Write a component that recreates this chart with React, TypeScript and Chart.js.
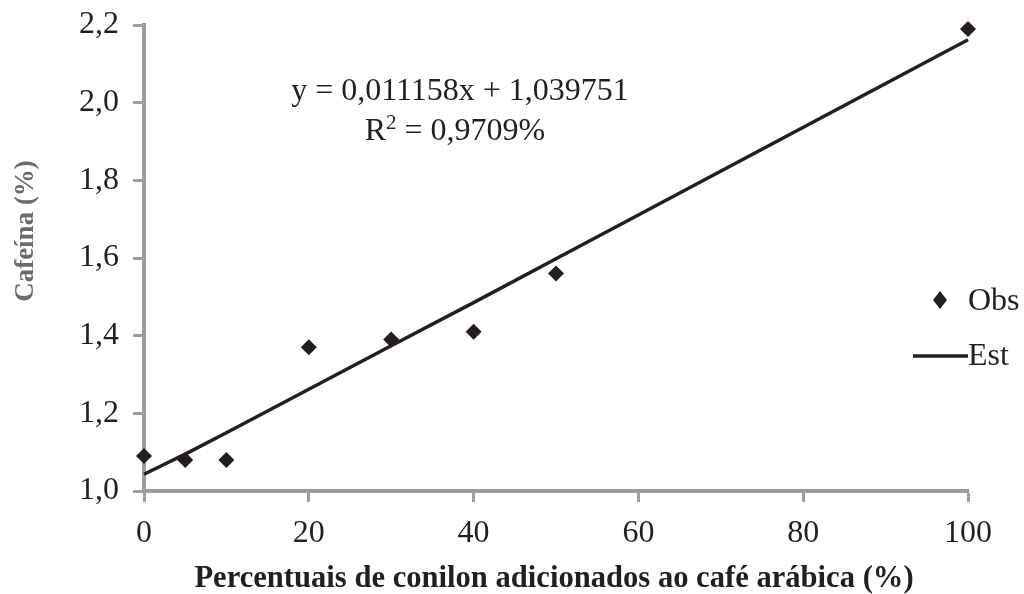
import React, { useEffect, useRef } from "react";
import { Chart, registerables } from "chart.js";

Chart.register(...registerables);

const xValues = [0, 5, 10, 20, 30, 40, 50, 100];
const obsValues = [1.09, 1.08, 1.08, 1.37, 1.39, 1.41, 1.56, 2.19];
const estValues = [1.043, 1.095, 1.15, 1.262, 1.374, 1.485, 1.598, 2.162];
const seriesLabels = ["Obs", "Est"];
const xTitle = "Percentuais de conilon adicionados ao café arábica (%)";
const yTitle = "Cafeína (%)";
const equationText = "y = 0,011158x + 1,039751";
const r2Parts = ["R", "2", " = 0,9709%"];
const xMin = 0;
const xMax = 100;
const xStep = 20;
const yMin = 1.0;
const yMax = 2.2;
const yStep = 0.2;

const INK = "#231f20";
const AXIS = "#9d9d9d";
const SERIF = '"Liberation Serif", "Times New Roman", serif';

const overlayPlugin = {
  id: "overlayTexts",
  afterDraw(chart: any) {
    const ctx = chart.ctx as CanvasRenderingContext2D;
    ctx.save();
    // Y title
    ctx.save();
    ctx.translate(26, 231);
    ctx.rotate(-Math.PI / 2);
    ctx.font = `bold 27px ${SERIF}`;
    ctx.fillStyle = "#6b6b6b";
    ctx.textAlign = "center";
    ctx.textBaseline = "middle";
    ctx.fillText(yTitle, 0, 0);
    ctx.restore();

    // X title
    ctx.font = `bold 30.6px ${SERIF}`;
    ctx.fillStyle = INK;
    ctx.textAlign = "center";
    ctx.textBaseline = "middle";
    ctx.fillText(xTitle, 554, 579);

    // Equation
    ctx.font = `32px ${SERIF}`;
    ctx.fillText(equationText, 460, 92);

    // R² line with real superscript
    const big = `32px ${SERIF}`;
    const small = `21px ${SERIF}`;
    ctx.font = big;
    const wR = ctx.measureText(r2Parts[0]).width;
    const wRest = ctx.measureText(r2Parts[2]).width;
    ctx.font = small;
    const wSup = ctx.measureText(r2Parts[1]).width;
    const total = wR + wSup + wRest;
    let x0 = 455 - total / 2;
    ctx.textAlign = "left";
    ctx.textBaseline = "alphabetic";
    const base = 140;
    ctx.font = big;
    ctx.fillText(r2Parts[0], x0, base);
    x0 += wR;
    ctx.font = small;
    ctx.fillText(r2Parts[1], x0, base - 11);
    x0 += wSup;
    ctx.font = big;
    ctx.fillText(r2Parts[2], x0, base);

    // Legend
    ctx.beginPath();
    ctx.moveTo(940, 291);
    ctx.lineTo(947, 300);
    ctx.lineTo(940, 309);
    ctx.lineTo(933, 300);
    ctx.closePath();
    ctx.fillStyle = INK;
    ctx.fill();
    ctx.font = `32px ${SERIF}`;
    ctx.textAlign = "left";
    ctx.textBaseline = "middle";
    ctx.fillText(seriesLabels[0], 968, 302);

    ctx.beginPath();
    ctx.moveTo(913, 356);
    ctx.lineTo(968, 356);
    ctx.strokeStyle = INK;
    ctx.lineWidth = 3.5;
    ctx.stroke();
    ctx.fillText(seriesLabels[1], 968, 357);
    ctx.restore();
  },
};

export default function App() {
  const ref = useRef<HTMLCanvasElement | null>(null);

  useEffect(() => {
    if (!ref.current) return;
    const obs = xValues.map((x, i) => ({ x, y: obsValues[i] }));
    const est = xValues.map((x, i) => ({ x, y: estValues[i] }));
    const chart = new Chart(ref.current, {
      type: "scatter",
      data: {
        datasets: [
          {
            label: seriesLabels[1],
            data: est,
            showLine: true,
            borderColor: INK,
            backgroundColor: INK,
            borderWidth: 3.5,
            pointRadius: 0,
            tension: 0,
            clip: false,
          } as any,
          {
            label: seriesLabels[0],
            data: obs,
            pointStyle: "rectRot",
            pointRadius: 8,
            backgroundColor: INK,
            borderColor: INK,
            borderWidth: 0,
            clip: false,
          } as any,
        ],
      },
      options: {
        animation: false,
        responsive: true,
        maintainAspectRatio: false,
        layout: { padding: { top: 25, right: 56, bottom: 0, left: 0 } },
        plugins: {
          legend: { display: false },
          tooltip: { enabled: false },
        },
        scales: {
          x: {
            type: "linear",
            min: xMin,
            max: xMax,
            ticks: {
              stepSize: xStep,
              color: INK,
              font: { family: SERIF, size: 32 },
              padding: 12,
              maxRotation: 0,
            },
            grid: {
              drawOnChartArea: false,
              drawTicks: true,
              tickLength: 11,
              tickColor: AXIS,
              tickWidth: 3,
            },
            border: { color: AXIS, width: 4 },
            afterFit: (s: any) => {
              s.height = 103;
              s.paddingLeft = 0;
              s.paddingRight = 0;
            },
          },
          y: {
            type: "linear",
            min: yMin,
            max: yMax,
            ticks: {
              stepSize: yStep,
              color: INK,
              font: { family: SERIF, size: 32 },
              padding: 14,
              callback: (v: any) => Number(v).toFixed(1).replace(".", ","),
            },
            grid: {
              drawOnChartArea: false,
              drawTicks: true,
              tickLength: 11,
              tickColor: AXIS,
              tickWidth: 3,
            },
            border: { color: AXIS, width: 4 },
            afterFit: (s: any) => {
              s.width = 144;
              s.paddingTop = 0;
              s.paddingBottom = 0;
            },
          },
        },
      } as any,
      plugins: [overlayPlugin],
    });
    return () => chart.destroy();
  }, []);

  return (
    <div style={{ position: "fixed", left: 0, top: 0, width: 1024, height: 594, background: "#fff" }}>
      <canvas ref={ref} />
    </div>
  );
}
